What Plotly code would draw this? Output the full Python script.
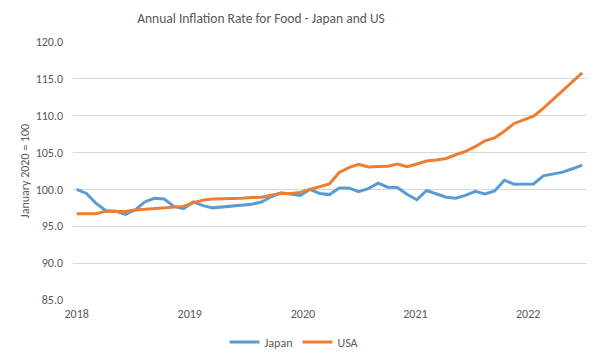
import plotly.graph_objects as go

# Monthly data, Jan 2018 .. May 2022 (index, January 2020 = 100)
months = list(range(53))
japan = [100.0, 99.45, 98.1, 97.1, 97.05, 96.6, 97.2, 98.3, 98.8, 98.7, 97.7, 97.4,
         98.3, 97.8, 97.5, 97.6, 97.7, 97.9, 98.0, 98.3, 99.0, 99.55, 99.35, 99.2,
         100.0, 99.45, 99.3, 100.2, 100.2, 99.7, 100.1, 100.85, 100.3, 100.25, 99.3, 98.6,
         99.85, 99.35, 98.95, 98.8, 99.2, 99.75, 99.4, 99.8, 101.25, 100.7, 100.7, 100.75,
         101.85, 102.15, 102.35, 102.8, 103.3]
usa = [96.7, 96.65, 96.7, 97.05, 97.05, 97.0, 97.2, 97.3, 97.4, 97.4, 97.5, 97.7,
       98.2, 98.55, 98.7, 98.7, 98.8, 98.8, 98.9, 98.95, 99.2, 99.45, 99.45, 99.6,
       100.0, 100.4, 100.75, 102.3, 102.95, 103.4, 103.05, 103.1, 103.15, 103.45, 103.1, 103.45,
       103.85, 104.0, 104.2, 104.7, 105.15, 105.8, 106.6, 107.0, 107.9, 108.95, 109.4, 109.95,
       111.0, 112.2, 113.4, 114.55, 115.8]

year_labels = ["2018", "2019", "2020", "2021", "2022"]
year_tick_pos = [0, 11.63, 23.27, 34.85, 46.45]
y_ticks = [85, 90, 95, 100, 105, 110, 115, 120]

FONT = "Carlito, Calibri, Lato, sans-serif"
GREY = "#595959"

fig = go.Figure()
fig.add_trace(go.Scatter(x=months, y=japan, mode="lines", name="Japan",
                         line=dict(color="#5B9BD5", width=3)))
fig.add_trace(go.Scatter(x=months, y=usa, mode="lines", name="USA",
                         line=dict(color="#ED7D31", width=3)))

fig.update_layout(
    width=600, height=361,
    margin=dict(l=73, r=13, t=42, b=61, autoexpand=False),
    paper_bgcolor="white", plot_bgcolor="white",
    font=dict(family=FONT, color=GREY, size=12),
    title=dict(text="Annual Inflation Rate for Food - Japan and US",
               x=0.435, xanchor="center", y=1 - 18 / 361, yanchor="middle",
               font=dict(size=13.5, color=GREY, family=FONT)),
    showlegend=True,
    legend=dict(orientation="h", x=0.43, xanchor="center", y=-0.163, yanchor="middle",
                font=dict(size=12, color=GREY, family=FONT), itemwidth=30),
    xaxis=dict(range=[-0.38, 52.5], tickmode="array", tickvals=year_tick_pos,
               ticktext=year_labels, showgrid=False, zeroline=False, showline=False,
               automargin=False,
               ticks="", ticklabelstandoff=5, tickfont=dict(size=12, color=GREY)),
    yaxis=dict(range=[85, 120], tickmode="array", tickvals=y_ticks,
               ticktext=[f"{v:.1f}" for v in y_ticks], showgrid=True,
               gridcolor="#D9D9D9", gridwidth=1, zeroline=False, showline=False,
               automargin=False,
               ticks="", ticklabelstandoff=9, tickfont=dict(size=12, color=GREY),
               title=dict(text="January 2020 = 100", standoff=3,
                          font=dict(size=12, color=GREY))),
)

fig.write_html("out.html", config={"displayModeBar": False},
               post_script="document.body.style.margin='0px';")
